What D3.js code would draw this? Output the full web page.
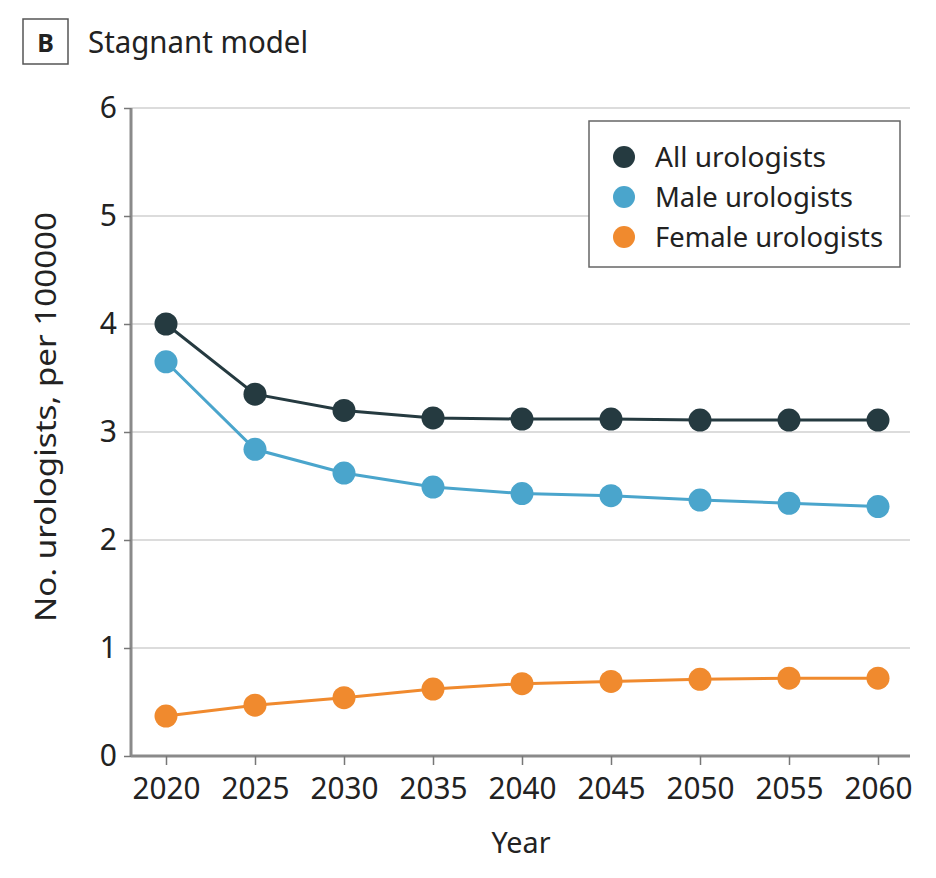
<!DOCTYPE html>
<html>
<head>
<meta charset="utf-8">
<script src="https://cdn.jsdelivr.net/npm/d3@7"></script>
<style>
  body { margin: 0; background: #fff; }
  text { font-family: "Noto Sans", "Open Sans", sans-serif; fill: #222; }
</style>
</head>
<body>
<div id="chart"></div>
<script>
// data
var years = [2020, 2025, 2030, 2035, 2040, 2045, 2050, 2055, 2060];
var allUrologists = [4.00, 3.35, 3.20, 3.13, 3.12, 3.12, 3.11, 3.11, 3.11];
var maleUrologists = [3.65, 2.84, 2.62, 2.49, 2.43, 2.41, 2.37, 2.34, 2.31];
var femaleUrologists = [0.37, 0.47, 0.54, 0.62, 0.67, 0.69, 0.71, 0.72, 0.72];
var seriesNames = ["All urologists", "Male urologists", "Female urologists"];
var seriesColors = ["#253a40", "#4aa5cc", "#f08a2e"];
var yTicks = [0, 1, 2, 3, 4, 5, 6];

var series = [allUrologists, maleUrologists, femaleUrologists].map(function(vals, i) {
    return {
        "name" : seriesNames[i],
        "color" : seriesColors[i],
        "points" : vals.map(function(v, j) { return { "year" : years[j], "value" : v }; })
    };
});

var width = 936, height = 878;
var margin = { "top" : 108, "right" : 26, "bottom" : 122, "left" : 131 };

var svg = d3.select("#chart").append("svg").attr("width", width).attr("height", height);

// panel label + title
svg.append("rect").attr("x", 23).attr("y", 19).attr("width", 45).attr("height", 45)
    .attr("fill", "none").attr("stroke", "#555").attr("stroke-width", 1.5);
svg.append("text").attr("x", 45.5).attr("y", 52).attr("text-anchor", "middle")
    .style("font-size", "25px").style("font-weight", "bold").text("B");
svg.append("text").attr("x", 88).attr("y", 53)
    .style("font-size", "30px").attr("textLength", 220).attr("lengthAdjust", "spacingAndGlyphs")
    .text("Stagnant model");

// 2020 sits at x=166, 2060 at x=878
var x = d3.scaleLinear().domain([2020, 2060]).range([166, 878]);
var y = d3.scaleLinear().domain([0, 6]).range([height - margin.bottom, margin.top]);

var g = svg.append("g");

// gridlines
g.selectAll(".grid").data(yTicks.filter(function(d) { return d > 0; })).enter().append("line")
    .attr("x1", margin.left).attr("x2", width - margin.right)
    .attr("y1", function(d) { return y(d); }).attr("y2", function(d) { return y(d); })
    .attr("stroke", "#dcdcdc").attr("stroke-width", 2);

// y axis
var yAxis = g.append("g").attr("transform", "translate(" + margin.left + ",0)")
    .call(d3.axisLeft(y).tickValues(yTicks).tickFormat(d3.format("d")).tickSize(7).tickPadding(7));
// x axis
var xAxis = g.append("g").attr("transform", "translate(0," + (height - margin.bottom) + ")")
    .call(d3.axisBottom(x).tickValues(years).tickFormat(d3.format("d")).tickSize(9).tickPadding(13));

[yAxis, xAxis].forEach(function(ax) {
    ax.select(".domain").attr("stroke", "#8a8a8a").attr("stroke-width", 3);
    ax.selectAll(".tick line").attr("stroke", "#777").attr("stroke-width", 1.5);
    ax.selectAll(".tick text").style("font-size", "30px").style("font-family", "Noto Sans, sans-serif").attr("fill", "#222");
});
xAxis.selectAll(".tick text").attr("textLength", 68).attr("lengthAdjust", "spacingAndGlyphs");
xAxis.select(".domain").attr("d", "M" + margin.left + ",0H" + (width - margin.right));
yAxis.select(".domain").attr("d", "M0," + y(6) + "V" + y(0));

// axis titles
svg.append("text").attr("x", 521).attr("y", 853)
    .attr("text-anchor", "middle").style("font-size", "29px")
    .attr("textLength", 59).attr("lengthAdjust", "spacingAndGlyphs").text("Year");
svg.append("text").attr("transform", "translate(56," + 417 + ") rotate(-90)")
    .attr("text-anchor", "middle").style("font-size", "29px")
    .attr("textLength", 410).attr("lengthAdjust", "spacingAndGlyphs")
    .text("No. urologists, per 100000");

// lines and markers
var line = d3.line().x(function(d) { return x(d.year); }).y(function(d) { return y(d.value); });

var sg = g.selectAll(".series").data(series).enter().append("g").attr("class", "series");
sg.append("path").attr("d", function(d) { return line(d.points); })
    .attr("fill", "none").attr("stroke", function(d) { return d.color; }).attr("stroke-width", 3);
sg.selectAll("circle").data(function(d) {
    return d.points.map(function(p) { return { "year" : p.year, "value" : p.value, "color" : d.color }; });
}).enter().append("circle")
    .attr("cx", function(d) { return x(d.year); })
    .attr("cy", function(d) { return y(d.value); })
    .attr("r", 11.5)
    .attr("fill", function(d) { return d.color; });

// legend
var legendWidths = [171, 198, 228];
var legend = svg.append("g");
legend.append("rect").attr("x", 589).attr("y", 121).attr("width", 311).attr("height", 146)
    .attr("fill", "#fff").attr("stroke", "#666").attr("stroke-width", 1.5);
var li = legend.selectAll(".li").data(series).enter().append("g")
    .attr("transform", function(d, i) { return "translate(624," + (157 + i * 40) + ")"; });
li.append("circle").attr("r", 11).attr("fill", function(d) { return d.color; });
li.append("text").attr("x", 31).attr("y", 10).style("font-size", "28px")
    .attr("textLength", function(d, i) { return legendWidths[i]; }).attr("lengthAdjust", "spacingAndGlyphs")
    .text(function(d) { return d.name; });
</script>
</body>
</html>
